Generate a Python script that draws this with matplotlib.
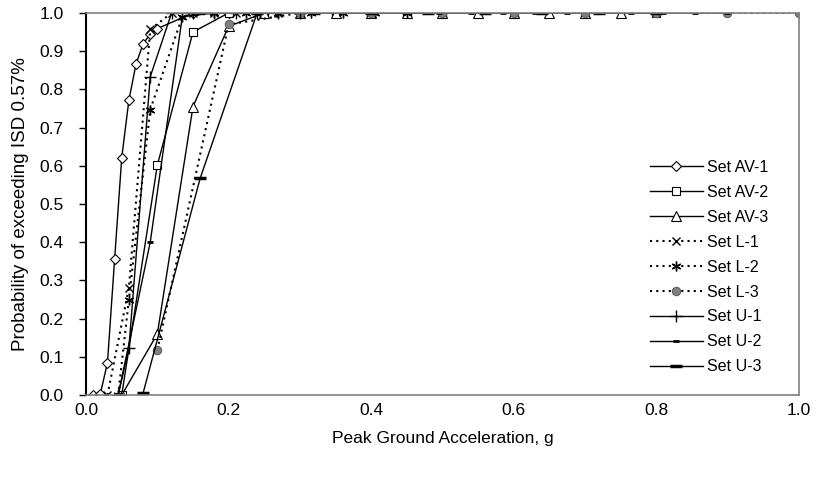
import matplotlib
matplotlib.use('Agg')
import matplotlib.pyplot as plt
import numpy as np

plt.rcParams['font.family'] = ['Liberation Sans', 'DejaVu Sans']

# ---- data ----
av1_x = [0.01, 0.02, 0.03, 0.04, 0.05, 0.06, 0.07, 0.08, 0.09, 0.10,
         0.15, 0.20, 0.25, 0.30, 0.35, 0.40, 0.45, 0.50]
av1_y = [0.0, 0.003, 0.085, 0.355, 0.621, 0.771, 0.866, 0.919, 0.945, 0.959,
         1.0, 1.0, 1.0, 1.0, 1.0, 1.0, 1.0, 1.0]

av2_x = [0.05, 0.10, 0.15, 0.20, 0.25, 0.30, 0.35, 0.40, 0.45, 0.50,
         0.60, 0.70, 0.80]
av2_y = [0.0, 0.602, 0.95, 1.0, 1.0, 1.0, 1.0, 1.0, 1.0, 1.0,
         1.0, 1.0, 1.0]

av3_x = [0.05, 0.10, 0.15, 0.20, 0.25, 0.30, 0.35, 0.40, 0.45, 0.50,
         0.55, 0.60, 0.65, 0.70, 0.75]
av3_y = [0.0, 0.16, 0.755, 0.965, 1.0, 1.0, 1.0, 1.0, 1.0, 1.0,
         1.0, 1.0, 1.0, 1.0, 1.0]

l1_x = [0.03, 0.06, 0.09, 0.12, 0.15, 0.18, 0.21, 0.24, 0.27, 0.30]
l1_y = [0.0, 0.28, 0.957, 1.0, 1.0, 1.0, 1.0, 1.0, 1.0, 1.0]

l2_x = [0.045, 0.06, 0.09, 0.135, 0.18, 0.225, 0.27, 0.315, 0.36, 0.405, 0.45]
l2_y = [0.0, 0.249, 0.747, 0.99, 1.0, 1.0, 1.0, 1.0, 1.0, 1.0, 1.0]

l3_x = [0.10, 0.20, 0.30, 0.40, 0.50, 0.60, 0.70, 0.80, 0.90, 1.00]
l3_y = [0.118, 0.97, 1.0, 1.0, 1.0, 1.0, 1.0, 1.0, 1.0, 1.0]

u1_x = [0.045, 0.06, 0.09, 0.12, 0.15, 0.18, 0.21, 0.24, 0.27, 0.30]
u1_y = [0.0, 0.122, 0.833, 1.0, 1.0, 1.0, 1.0, 1.0, 1.0, 1.0]

u2_x = [0.045, 0.09, 0.135, 0.18, 0.225, 0.27, 0.315, 0.36, 0.405, 0.45,
        0.495, 0.54, 0.585, 0.63, 0.675, 0.72, 0.765, 0.81, 0.855, 0.90]
u2_y = [0.0, 0.40, 0.99, 1.0, 1.0, 1.0, 1.0, 1.0, 1.0, 1.0,
        1.0, 1.0, 1.0, 1.0, 1.0, 1.0, 1.0, 1.0, 1.0, 1.0]

u3_x = [0.08, 0.16, 0.24, 0.32, 0.40, 0.48, 0.56, 0.64, 0.72, 0.80]
u3_y = [0.005, 0.567, 1.0, 1.0, 1.0, 1.0, 1.0, 1.0, 1.0, 1.0]

fig = plt.figure(figsize=(8.2, 4.8), dpi=100)
ax = fig.add_axes([0.105, 0.177, 0.869, 0.796])

dot = (0, (1, 2))
ax.plot(av1_x, av1_y, '-', color='black', lw=1, marker='D', ms=5, mfc='white', mec='black', mew=0.8, label='Set AV-1')
ax.plot(av2_x, av2_y, '-', color='black', lw=1, marker='s', ms=6, mfc='white', mec='black', mew=0.8, label='Set AV-2')
ax.plot(av3_x, av3_y, '-', color='black', lw=1, marker='^', ms=7, mfc='white', mec='black', mew=0.8, label='Set AV-3')
ax.plot(l1_x, l1_y, linestyle=dot, color='black', lw=1.5, marker='x', ms=6, mec='black', mew=1, label='Set L-1')
ax.plot(l2_x, l2_y, linestyle=dot, color='black', lw=1.5, marker=(6, 2, 0), ms=7, mec='black', mew=1, label='Set L-2')
ax.plot(l3_x, l3_y, linestyle=dot, color='black', lw=1.5, marker='o', ms=6, mfc='#808080', mec='#606060', mew=0.8, label='Set L-3')
ax.plot(u1_x, u1_y, '-', color='black', lw=1, marker='+', ms=8, mec='black', mew=1, label='Set U-1')
ax.plot(u2_x, u2_y, '-', color='black', lw=1, marker='_', ms=5, mec='black', mew=2, label='Set U-2')
ax.plot(u3_x, u3_y, '-', color='black', lw=1, marker='_', ms=9, mec='black', mew=2.5, label='Set U-3')

ax.set_xlim(0, 1.0)
ax.set_ylim(0, 1.0)
ax.set_xticks(np.arange(0, 1.01, 0.2))
ax.set_yticks(np.arange(0, 1.01, 0.1))
ax.xaxis.set_major_formatter(plt.FormatStrFormatter('%.1f'))
ax.yaxis.set_major_formatter(plt.FormatStrFormatter('%.1f'))
ax.tick_params(axis='y', direction='out', length=5, width=1, colors='black', labelsize=12.5, pad=11)
ax.tick_params(axis='x', length=0, labelsize=12.5, pad=6)

for s in ['top', 'right', 'bottom']:
    ax.spines[s].set_color('#808080')
    ax.spines[s].set_linewidth(1.2)
ax.spines['left'].set_color('black')
ax.spines['left'].set_linewidth(1.5)

ax.set_xlabel('Peak Ground Acceleration, g', fontsize=12.5, labelpad=9)
ax.set_ylabel('Probability of exceeding ISD 0.57%', fontsize=13.5, labelpad=8)

ax.legend(loc='upper left', bbox_to_anchor=(650 / 820, 1 - 160 / 480),
          bbox_transform=fig.transFigure, frameon=False, fontsize=11.5,
          handlelength=3.3, handletextpad=0.3, labelspacing=0.62, borderpad=0,
          borderaxespad=0)

fig.savefig('out.png', dpi=100)
